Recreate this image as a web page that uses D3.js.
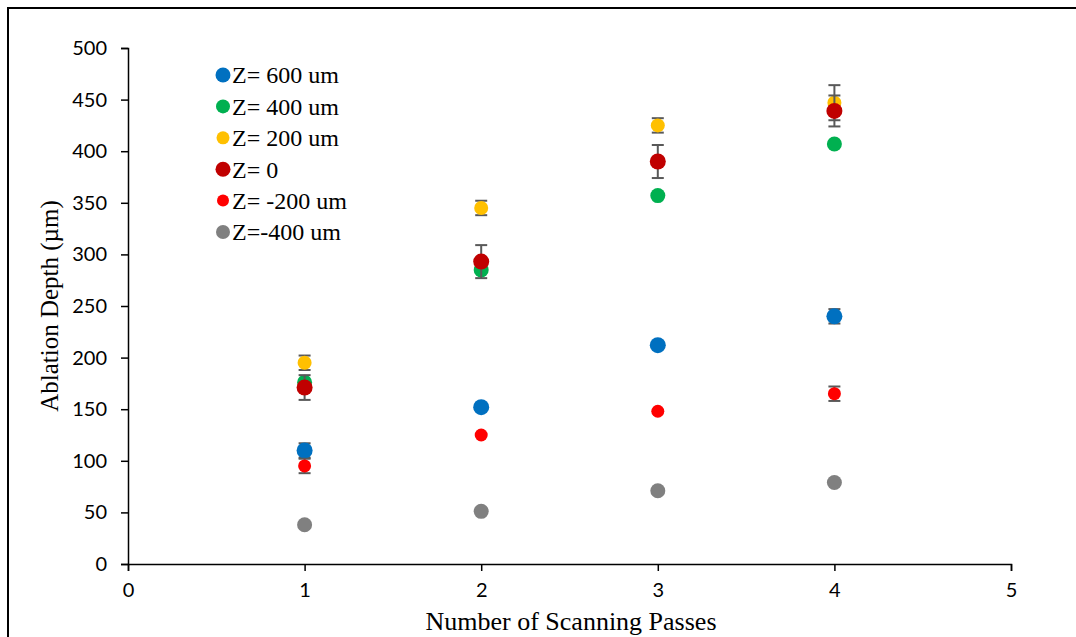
<!DOCTYPE html>
<html lang="en">
<head>
  <meta charset="UTF-8" />
  <script src="https://d3js.org/d3.v7.min.js"></script>
  <title>Ablation Depth</title>
  <style>
    body { margin: 0; background: #fff; }
  </style>
</head>
<body>
<script type="text/javascript">
// data
var passes = [1, 2, 3, 4];
var seriesNames = ["Z= 600 um", "Z= 400 um", "Z= 200 um", "Z= 0", "Z= -200 um", "Z=-400 um"];
var z600 = [110, 152, 212, 240];
var z400 = [176, 285, 357, 407];
var z200 = [195, 345, 425, 447];
var z0 = [171, 293, 390, 439];
var zm200 = [95, 125, 148, 165];
var zm400 = [38, 51, 71, 79];
var err600 = [7, 0, 0, 7];
var err400 = [0, 0, 0, 0];
var err200 = [7, 7, 7, 17];
var err0 = [12, 16, 16, 15];
var errm200 = [7, 0, 0, 7];
var errm400 = [0, 0, 0, 0];
var xTicks = [0, 1, 2, 3, 4, 5];
var yTicks = [0, 50, 100, 150, 200, 250, 300, 350, 400, 450, 500];

var colors = ["#0070C0", "#00B050", "#FFC000", "#C00000", "#FF0000", "#808080"];
var radii = [8, 7.5, 7, 8, 6.5, 7.5];

var values = [z600, z400, z200, z0, zm200, zm400];
var errors = [err600, err400, err200, err0, errm200, errm400];

var W = 1076, H = 637;
var serif = "'Liberation Serif', 'Times New Roman', serif";
var svg = d3.select("body").append("svg").attr("width", W).attr("height", H);

// outer frame (only top and left visible)
svg.append("path").attr("d", "M8," + H + "L8,8L" + W + ",8")
  .attr("stroke", "#000").attr("stroke-width", 2).attr("fill", "none");

var x = d3.scaleLinear().domain([0, 5]).range([128, 1011]);
var y = d3.scaleLinear().domain([0, 500]).range([564, 48]);

var xAxis = svg.append("g")
  .attr("transform", "translate(0," + y(0) + ")")
  .call(d3.axisBottom(x).tickValues(xTicks).tickFormat(d3.format("d")).tickSize(7).tickSizeOuter(7));
var yAxis = svg.append("g")
  .attr("transform", "translate(" + x(0) + ",0)")
  .call(d3.axisLeft(y).tickValues(yTicks).tickFormat(d3.format("d")).tickSize(7).tickSizeOuter(7));

[xAxis, yAxis].forEach(function(g) {
  g.selectAll("path, line").attr("stroke", "#000").attr("stroke-width", 1.5);
  g.selectAll("text").attr("font-family", "Lato, 'Open Sans', sans-serif")
    .attr("font-size", 20).attr("fill", "#000");
});
xAxis.selectAll("text").attr("y", 15).attr("dy", "0.9em");
yAxis.selectAll("text").attr("x", -21);

// series: error bars then markers
values.forEach(function(vals, s) {
  var g = svg.append("g");
  passes.forEach(function(p, i) {
    var e = errors[s][i];
    if (e > 0) {
      var cx = x(p);
      g.append("line").attr("x1", cx).attr("x2", cx)
        .attr("y1", y(vals[i] - e)).attr("y2", y(vals[i] + e))
        .attr("stroke", "#595959").attr("stroke-width", 2);
      [vals[i] - e, vals[i] + e].forEach(function(v) {
        g.append("line").attr("x1", cx - 6).attr("x2", cx + 6)
          .attr("y1", y(v)).attr("y2", y(v))
          .attr("stroke", "#595959").attr("stroke-width", 2);
      });
    }
  });
  g.selectAll("circle").data(vals).enter().append("circle")
    .attr("cx", function(d, i) { return x(passes[i]); })
    .attr("cy", function(d) { return y(d); })
    .attr("r", radii[s])
    .attr("fill", colors[s]);
});

// legend
var legend = svg.append("g").attr("transform", "translate(223,75)");
seriesNames.forEach(function(name, i) {
  var row = legend.append("g").attr("transform", "translate(0," + (i * 31.4) + ")");
  row.append("circle").attr("r", radii[i] - 0.5).attr("fill", colors[i]);
  row.append("text").attr("x", 9).attr("dy", "0.35em")
    .attr("font-family", serif)
    .attr("font-size", 24).attr("fill", "#000").text(name);
});

// axis titles
svg.append("text").attr("x", 571).attr("y", 630).attr("text-anchor", "middle")
  .attr("font-family", serif)
  .attr("font-size", 26).attr("fill", "#000").text("Number of Scanning Passes");
svg.append("text").attr("transform", "translate(58,306) rotate(-90)").attr("text-anchor", "middle")
  .attr("font-family", serif)
  .attr("font-size", 25).attr("fill", "#000").text("Ablation Depth (\u00b5m)");
</script>
</body>
</html>
